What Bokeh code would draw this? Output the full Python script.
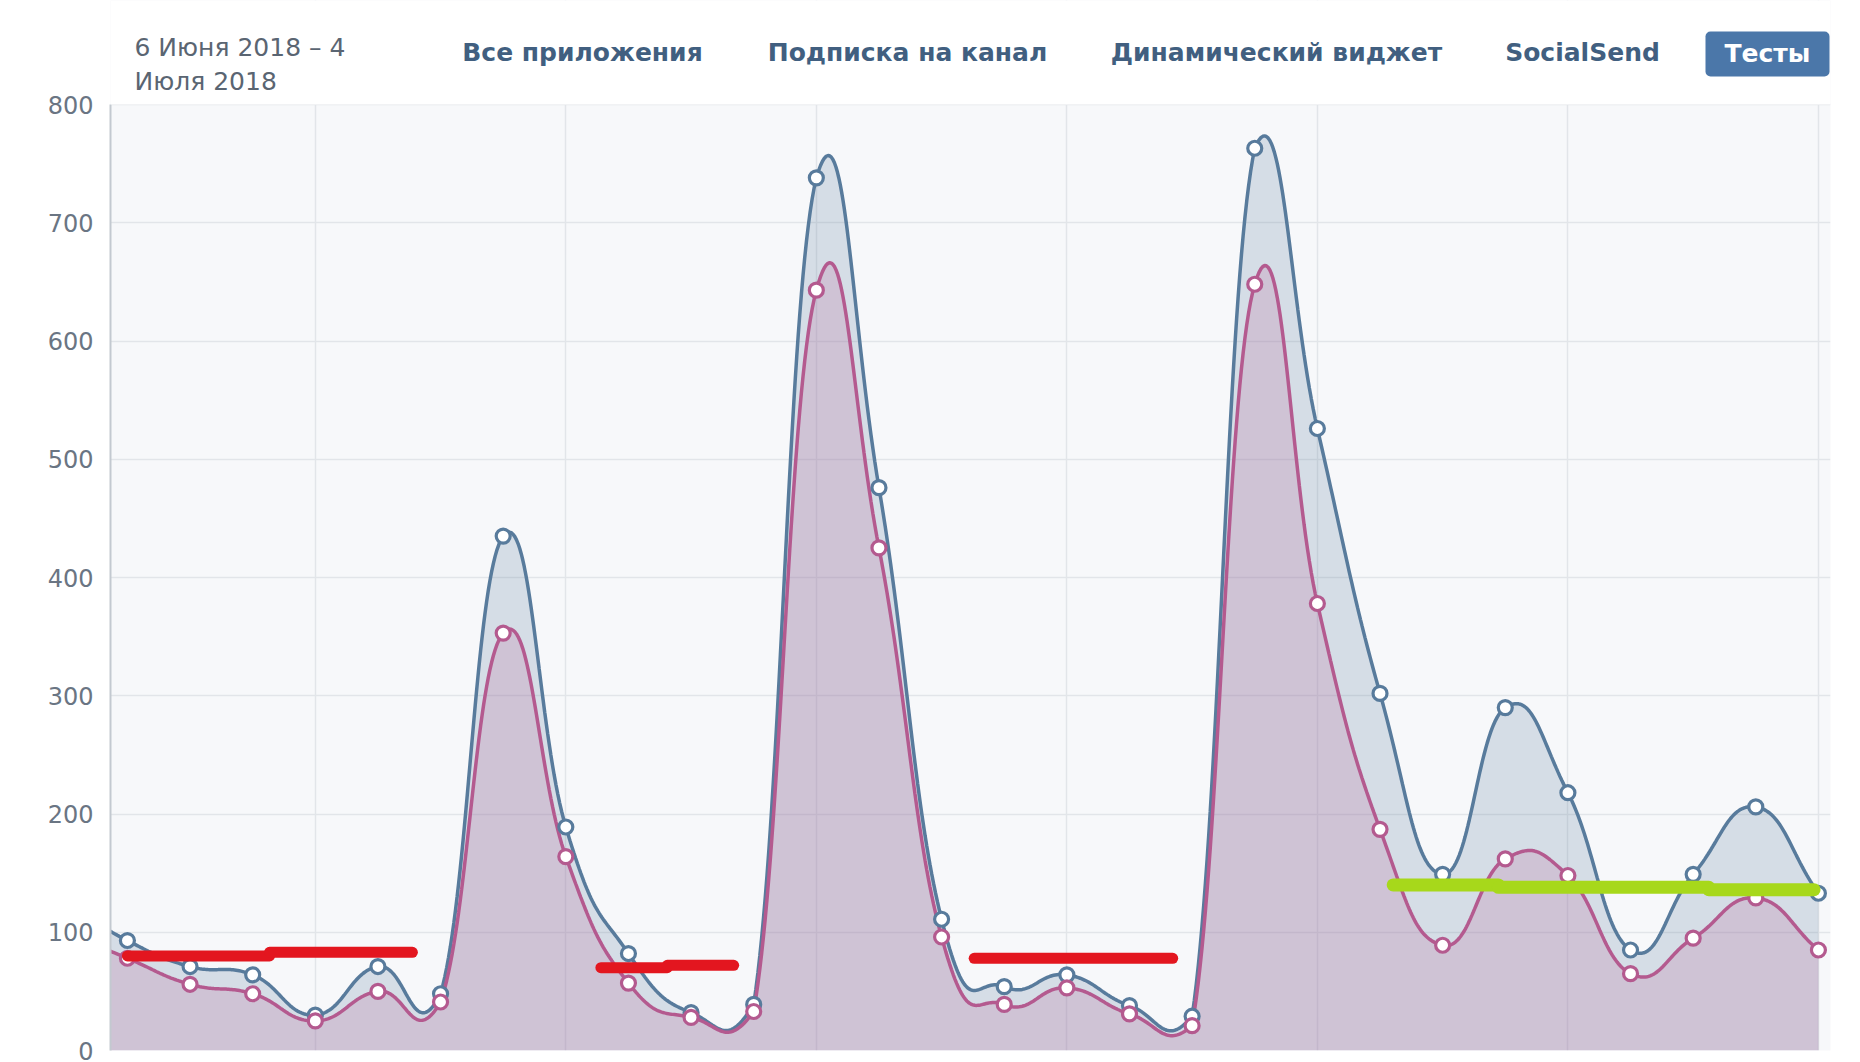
import numpy as np
from bokeh.plotting import figure
from bokeh.models import Range1d, FixedTicker, Label, BoxAnnotation, ColumnDataSource
from bokeh.embed import file_html
from bokeh.resources import INLINE

# ---------------- data ----------------
DATES = ["6 июн", "7 июн", "8 июн", "9 июн", "10 июн", "11 июн", "12 июн", "13 июн",
         "14 июн", "15 июн", "16 июн", "17 июн", "18 июн", "19 июн", "20 июн", "21 июн",
         "22 июн", "23 июн", "24 июн", "25 июн", "26 июн", "27 июн", "28 июн", "29 июн",
         "30 июн", "1 июл", "2 июл", "3 июл", "4 июл"]
DAY_INDEX = list(range(-1, 28))
TOTAL = [125, 93, 71, 64, 30, 71, 48, 435, 189, 82, 32, 39, 738, 476, 111, 54, 64, 38, 29,
         763, 526, 302, 149, 290, 218, 85, 149, 206, 133]
UNIQUE = [100, 78, 56, 48, 25, 50, 41, 353, 164, 57, 28, 33, 643, 425, 96, 39, 53, 31, 21,
          648, 378, 187, 89, 162, 148, 65, 95, 129, 85]
Y_TICKS = [0, 100, 200, 300, 400, 500, 600, 700, 800]
X_GRID_TICKS = [3, 7, 11, 15, 19, 23, 27]

DATE_RANGE = ["6 Июня 2018 – 4", "Июля 2018"]
TABS = ["Все приложения", "Подписка на канал", "Динамический виджет", "SocialSend"]
ACTIVE_TAB = "Тесты"

# hand-drawn marker strokes over the chart
MARK_X0 = [0.0, 2.27, 7.56, 8.62, 13.52, 20.21, 21.89, 25.25]
MARK_X1 = [2.27, 4.55, 8.62, 9.68, 16.69, 21.89, 25.25, 26.93]
MARK_Y = [80, 83, 70, 72, 78, 140, 138, 136]
MARK_KIND = ["red", "red", "red", "red", "red", "green", "green", "green"]

# ---------------- layout constants ----------------
W, H = 1860, 1062
FRAME_LEFT, FRAME_RIGHT, FRAME_BOTTOM = 110, 1830, 1050   # px from the top-left corner
PX_PER_Y = 946 / 800.0
PX_PER_X = 62.63
X_START = -0.27
X_END = X_START + (FRAME_RIGHT - FRAME_LEFT) / PX_PER_X
Y_TOP = FRAME_BOTTOM / PX_PER_Y


def px_x(px):
    return X_START + (px - FRAME_LEFT) / PX_PER_X


def px_y(py):
    return (FRAME_BOTTOM - py) / PX_PER_Y


def spline(xs, ys, d=0.45, lo=0.0, hi=820.0, n=40):
    """smooth bezier curve through the points (tangent = central difference),
    control points kept inside the chart area"""
    xs = np.asarray(xs, float)
    ys = np.asarray(ys, float)
    cnt = len(ys)
    m = np.zeros(cnt)
    m[1:-1] = (ys[2:] - ys[:-2]) / (xs[2:] - xs[:-2])
    m[0] = (ys[1] - ys[0]) / (xs[1] - xs[0])
    m[-1] = (ys[-1] - ys[-2]) / (xs[-1] - xs[-2])
    t = np.linspace(0, 1, n)
    b0, b1, b2, b3 = (1 - t) ** 3, 3 * (1 - t) ** 2 * t, 3 * (1 - t) * t ** 2, t ** 3
    ox, oy = [], []
    for i in range(cnt - 1):
        h = xs[i + 1] - xs[i]
        x0, x3 = xs[i], xs[i + 1]
        x1, x2 = x0 + d * h, x3 - d * h
        y0, y3 = ys[i], ys[i + 1]
        y1 = np.clip(y0 + m[i] * d * h, lo, hi)
        y2 = np.clip(y3 - m[i + 1] * d * h, lo, hi)
        xx = b0 * x0 + b1 * x1 + b2 * x2 + b3 * x3
        yy = b0 * y0 + b1 * y1 + b2 * y2 + b3 * y3
        if i > 0:
            xx, yy = xx[1:], yy[1:]
        ox.extend(xx)
        oy.extend(yy)
    return np.array(ox), np.array(oy)


BG = "#f7f8fa"
BLUE = "#587b9c"
PINK = "#b45a8f"
RED = "#e3161f"
GREEN = "#a7d81b"
TAB_COLOR = "#415f80"
FONT = "DejaVu Sans"

p = figure(width=W, height=H, x_range=Range1d(X_START, X_END), y_range=Range1d(0, Y_TOP),
           output_backend="svg", toolbar_location=None, x_axis_location=None,
           min_border_left=FRAME_LEFT, min_border_right=W - FRAME_RIGHT,
           min_border_top=0, min_border_bottom=H - FRAME_BOTTOM,
           background_fill_color=BG, border_fill_color="white", outline_line_color=None)

# grids
p.ygrid.ticker = FixedTicker(ticks=Y_TICKS)
p.xgrid.ticker = FixedTicker(ticks=X_GRID_TICKS)
for g in (p.xgrid, p.ygrid):
    g.grid_line_color = "#e2e5e9"
    g.grid_line_width = 1.5

# y axis
ax = p.yaxis[0]
ax.ticker = FixedTicker(ticks=Y_TICKS)
ax.bounds = (0, 800)
ax.major_tick_in = 0
ax.major_tick_out = 0
ax.minor_tick_line_color = None
ax.axis_line_color = "#c3c9d0"
ax.axis_line_width = 2
ax.major_label_standoff = 17
ax.major_label_text_font = FONT
ax.major_label_text_font_size = "24px"
ax.major_label_text_color = "#6a7583"

# curves
tx, ty = spline(DAY_INDEX, TOTAL)
ux, uy = spline(DAY_INDEX, UNIQUE)
p.varea(x=tx, y1=0, y2=ty, fill_color=BLUE, fill_alpha=0.21)
p.varea(x=ux, y1=0, y2=uy, fill_color="#be6ea0", fill_alpha=0.23)
p.line(tx, ty, line_color=BLUE, line_width=3.5)
p.line(ux, uy, line_color=PINK, line_width=3.5)

src = ColumnDataSource(dict(day=DAY_INDEX, date=DATES, total=TOTAL, unique=UNIQUE))
p.scatter("day", "total", source=src, size=14, fill_color="white", line_color=BLUE, line_width=3.2)
p.scatter("day", "unique", source=src, size=14, fill_color="white", line_color=PINK, line_width=3.2)

# hand-drawn strokes
msrc = ColumnDataSource(dict(x0=MARK_X0, x1=MARK_X1, y=MARK_Y,
                             color=[RED if k == "red" else GREEN for k in MARK_KIND],
                             width=[11 if k == "red" else 13 for k in MARK_KIND]))
p.segment(x0="x0", y0="y", x1="x1", y1="y", source=msrc, line_color="color",
          line_width="width", line_cap="round")

# white header area above the chart
p.add_layout(BoxAnnotation(bottom=800, fill_color="white", fill_alpha=1.0, line_color=None))

# header: date range
for txt, yy in zip(DATE_RANGE, [47, 81]):
    p.add_layout(Label(x=px_x(134), y=px_y(yy), text=txt, text_font=FONT,
                       text_font_size="25px", text_color="#5a6572", text_baseline="middle",
                       text_align="left"))

# tabs
TAB_CENTERS = [582, 907, 1276, 1582]
for name, cx in zip(TABS, TAB_CENTERS):
    p.add_layout(Label(x=px_x(cx), y=px_y(52), text=name, text_font=FONT,
                       text_font_size="25px", text_font_style="bold", text_color=TAB_COLOR,
                       text_baseline="middle", text_align="center"))

p.add_layout(BoxAnnotation(left=px_x(1705), right=px_x(1829), top=px_y(31), bottom=px_y(76),
                           fill_color="#4b77a9", fill_alpha=1.0, line_color=None,
                           border_radius=5))
p.add_layout(Label(x=px_x(1767), y=px_y(53), text=ACTIVE_TAB, text_font=FONT,
                   text_font_size="25px", text_font_style="bold", text_color="white",
                   text_baseline="middle", text_align="center"))

open("out.html", "w").write(file_html(p, INLINE))
